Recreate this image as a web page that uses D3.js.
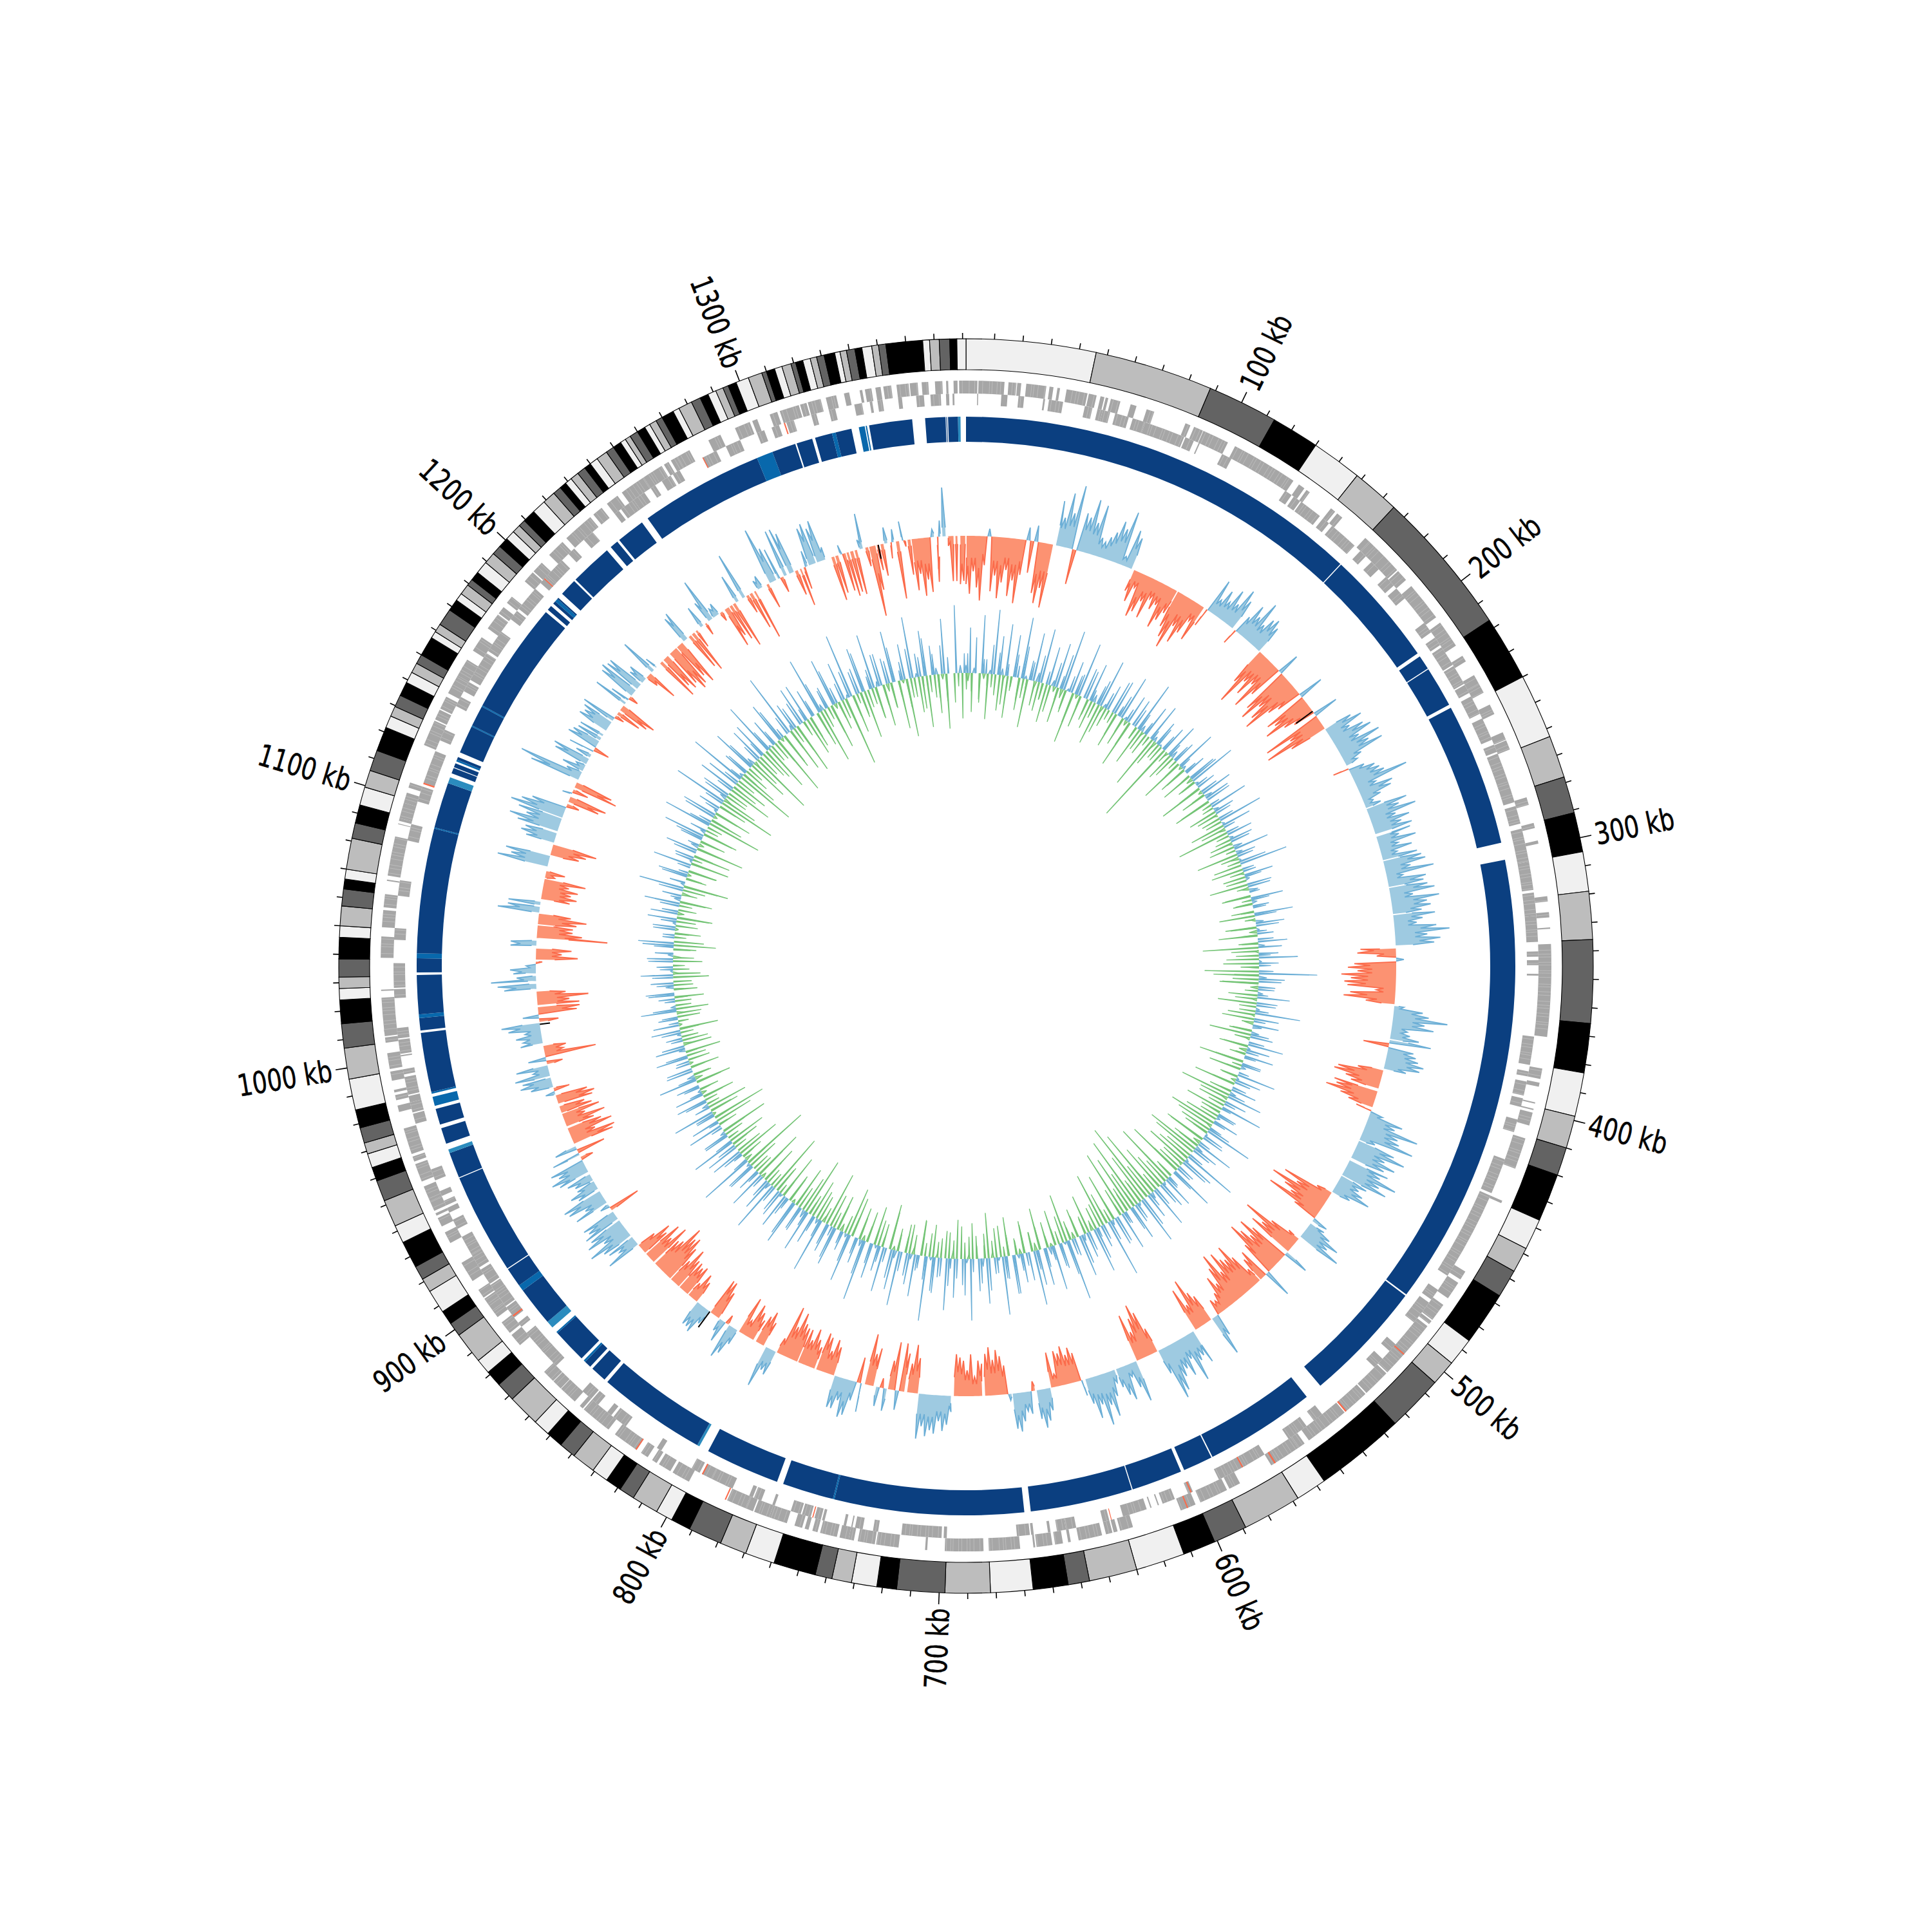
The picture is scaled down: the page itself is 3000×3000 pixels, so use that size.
<!DOCTYPE html>
<html><head><meta charset="utf-8">
<script src="https://cdn.jsdelivr.net/npm/d3@7"></script>
<style>html,body{margin:0;background:#fff}svg{display:block}</style></head>
<body><svg id="c" width="3000" height="3000"></svg>
<script>
const genomeKb = 1381.2;
const bandEdges = [0,46,88,113,130,148,165,217,240,263,278,291,305,319,336,365.5,383,398.5,410,420,437,448,457,467,486,496,505,525,557,568,589,601,612.6,630,647,654.6,667,682,698,715,722,731,738,744,759,769.5,779,791,798,804,813.5,819,824.7,830.6,839,845,851,857,868.4,875.3,881,886.4,897.6,902.6,907.6,916,921,926,935.6,942,951.6,959,964,969,973,978.5,985,996,1007,1015.6,1024,1028,1032,1038.4,1046,1050,1057,1063,1066.5,1070,1081,1086.5,1093,1099.5,1105.6,1113,1121.7,1126,1129.7,1134,1139,1143,1146.6,1150,1157,1159.5,1162.5,1168.6,1172.8,1175.6,1179.4,1181.8,1185,1189.5,1193.6,1197,1200.6,1204,1207,1209.5,1214,1219,1223.6,1226.6,1229,1231.5,1234.5,1237.6,1240,1243,1247,1250,1253,1255,1257,1260,1263,1265,1267.6,1270,1274.4,1276.7,1281.6,1285,1288,1291,1293.7,1295.7,1298.7,1303.3,1308.3,1310,1313,1315.7,1319,1320.7,1323.3,1326,1328.3,1331,1334.8,1336.7,1339,1342,1344.5,1348,1350.4,1353,1366,1368.4,1371.8,1375.5,1378,1381.2];
const bandColors = ["#f0f0f0","#bdbdbd","#636363","#000000"];
const majorTicks = [100,200,300,400,500,600,700,800,900,1000,1100,1200,1300];
const tickLabels = majorTicks.map(d=>d+" kb");

const ringSegments = [[0,164.8,0],[165.2,212.2,0],[213.7,219.5,0],[219.9,236.3,0],[237.7,295.5,0],[302.5,486.2,0],[486.8,536.5,0],[543.5,588.3,0],[588.8,600.8,0],[602.2,622.8,0],[623.2,664.6,0],[667.2,743.8,0],[743.8,744.4,1],[744.4,765.2,0],[767.8,798,0],[802,803,2],[803,847,0],[848.5,855,0],[856.2,859,0],[859,859.8,1],[861,875,0],[875,875.6,1],[878,881,2],[881,897,0],[897,899.5,1],[899.5,907.4,0],[907.8,948.7,0],[949.1,959.5,0],[959.5,961,2],[963.5,970,0],[971.5,978,0],[979.3,983,1],[984.3,985,1],[985,1009,0],[1010,1015,0],[1015,1016.5,1],[1016.5,1032.3,0],[1033.3,1039,0],[1039,1041,1],[1041,1091.5,0],[1091.5,1092,1],[1092,1110.5,0],[1110.5,1113,2],[1114.7,1117,0],[1117.3,1119,0],[1119.8,1120.6,1],[1120.6,1121.7,0],[1123.7,1135,0],[1135,1135.5,1],[1135.5,1144,0],[1144,1144.5,1],[1144.5,1189.8,0],[1191,1193,0],[1194.3,1195.5,0],[1195.5,1196.8,1],[1196.8,1197.4,0],[1199.6,1206.6,0],[1207.4,1224.6,0],[1226.6,1230,0],[1231,1242.5,0],[1245.3,1295.4,0],[1295.4,1302,1],[1302,1311.7,0],[1312.3,1318.8,0],[1320,1327,0],[1327,1328.5,1],[1328.5,1335,0],[1338,1340.4,1],[1340.8,1341.3,1],[1342.2,1359.6,0],[1364.8,1373,0],[1373.3,1373.6,0],[1374,1378,0],[1378,1379,2]];
const ringColors = ["#0b3f80","#0868ac","#2b8cbe"];

const geneOuter = [[0,4.3],[4.7,14.5],[16,19],[19.3,20.8],[22.7,30.3],[31.5,33],[34.5,35.5],[38,46],[46.5,49.5],[51,52.5],[53,54],[55,58.7],[62.7,65],[69,72],[84.5,86.5],[88,91.6],[91.8,102],[105,130.5],[133,135.5],[136.5,138],[148,150],[151,153.5],[165,167.5],[167.5,176],[175.7,182],[182.5,187],[190,205],[207.5,212],[212,218],[222.5,225],[231,235],[235,238.5],[243.5,247.5],[255,258],[258.3,262],[281,284],[291,293],[297.8,299],[319,321],[325,327],[330.8,331.3],[337,345],[345,372],[384,388],[389.4,391],[397,397.5],[399.5,400],[401,406],[411,423],[436,437],[466,469.5],[471,478],[481,488],[488.5,490],[491,494],[494,514],[514.5,525],[525.5,535.5],[536,553],[555,558],[558,570],[583.5,588],[589,600],[602,608],[627,632],[633,634.5],[635,637.5],[639,648],[651,652],[654,657],[658,664],[664.5,665.2],[670.2,682],[684,698.6],[705.2,706],[716,724.5],[725,731.5],[733,735],[735,738.5],[739.5,746],[747,749],[750.5,752],[753,756],[759,766],[766,772],[772.5,775.5],[775.5,783],[799,805],[804.5,806],[807,812],[813,815],[817,820],[822,825],[825,832],[835,838.5],[838.5,847],[847.5,849],[851.5,858.5],[858.7,862.5],[862.7,867.5],[881,886],[887,892],[894.5,897.5],[896.5,903],[903.5,907],[911,916],[915.5,919],[927.5,932],[934.5,938],[939,940],[941,945],[945,951],[953,960],[961,963],[964,974],[980.5,983],[985,987],[988,989],[992.5,996],[997,1003],[1007,1009],[1009.5,1012],[1011,1024],[1026.5,1027],[1039,1047],[1050.5,1057],[1058,1063],[1068,1068.5],[1070,1085],[1089.7,1090],[1091,1092],[1092,1098],[1098,1102],[1104,1106],[1121,1131],[1131.5,1135.5],[1136,1141],[1142.5,1150],[1150,1154],[1153,1157],[1161,1167],[1171,1177.5],[1178,1181],[1183,1186],[1193.5,1198],[1198.5,1203],[1207,1214],[1216,1222.5],[1222.5,1228],[1229.5,1233.5],[1236,1241],[1243,1248],[1248,1253],[1253,1257],[1257,1261],[1262,1264],[1265,1268],[1268,1273],[1281,1286],[1292,1298],[1299,1301],[1306,1309],[1310,1317.5],[1318,1320.5],[1321,1326],[1328,1332],[1335,1337],[1341,1342],[1343,1345.5],[1347,1349],[1350,1353],[1355,1359.6],[1360,1363],[1364.5,1367],[1369.5,1372.3],[1373.7,1374.5],[1376.5,1378],[1378.6,1381.2]];
const geneInner = [[4.3,4.7],[13.6,16],[20.2,22.4],[29.8,30.5],[32,37.5],[46,49],[51,53],[53,56],[58,63.4],[65,70],[70,86],[86.5,90],[92,92.5],[102,106],[130,133],[134,137],[137.5,146.5],[148,151],[152.5,164],[167,170],[173,177],[181,185.5],[187,192],[204,208.5],[211,214.5],[215.5,223.5],[224,232],[232.5,236],[237.5,245],[247,256],[258,261],[261.7,281.5],[283,290],[292,305],[305,316],[317,326],[326,336],[339.7,341.7],[343,345],[348.3,349],[372.5,383.5],[386,388],[390,395.5],[396.6,400],[405,410],[421,435],[436,468],[467,471],[477.5,482],[483.5,488],[487.5,493],[504,507.5],[511.5,516],[543,547],[550.5,555],[555,559],[570,579],[578,586],[586,590],[601,603],[608.5,613.5],[615,615.5],[618,618.5],[620,621.5],[621,629.5],[635,637.5],[648,652],[652,655.5],[658,659],[664.5,665.5],[666,671],[698,699.2],[700,715.5],[724.5,726.5],[730.5,733.5],[734.5,735],[737,738],[745.5,746.5],[747,749.5],[751,754.5],[755,759],[765.5,766.5],[771,774],[774.5,776],[783,786],[784.5,792],[792,796],[797,800.5],[814,816],[830.5,836.5],[837.5,839.5],[844,847],[847.5,852],[866,868],[867.5,874],[873,878],[878,883],[886,888],[890.5,895.5],[896,903],[902,906],[906.5,913],[914,917],[917,920],[920,927.5],[931,935],[938,940],[941,943],[945,947],[951.5,956],[974.5,978.5],[979,983],[983,985.5],[986,993],[994,996],[1001,1001.5],[1002,1007.5],[1008,1012],[1023.5,1027],[1027.5,1037],[1046,1050.5],[1063,1069],[1084.5,1091],[1100,1106],[1107.5,1120.5],[1125,1129.5],[1139.5,1143.5],[1146,1150],[1151,1163],[1164,1173],[1179,1183],[1184,1194],[1197,1201],[1200,1205],[1205,1209],[1212.5,1215.5],[1220.5,1225],[1236,1238],[1239,1245],[1245,1250],[1253,1255],[1258,1262],[1263,1266],[1276,1282],[1286,1292],[1299,1302],[1305,1308],[1311,1314],[1321,1323],[1328,1330.5],[1338,1341],[1344,1345],[1347,1349],[1355,1356.5],[1362,1365],[1367.5,1371.5],[1373.5,1374.7],[1376,1376.7]];
const rnaOuter = [[504.5,505],[535,535.6],[568,568.6],[605,605.5],[783.5,784],[822,822.5]];
const rnaInner = [[579.5,580],[601.5,602],[634,634.3],[750,750.4],[795.5,796],[891,891.6],[1107,1107.6],[1199,1199.4],[1276,1276.4],[1310,1310.5]];
const geneLengths = [1.2,2.1,0.9,1.6,2.6,1.0,1.9,1.3,2.3,1.5,1.1,2.0];

const skewRows = [
[0,-75,-90,-55,-80,-100,-45,12,-85,-60,-95,-70,-50,-90,-65,-100,-55,20,-50,25,-80,-95,-70,-100],
[46,70,45,85,55,100,-55,60,55,85,50,80,30,25,35,45,65,55,85,15,60,50],
[88,-35,-50,-25,-70,-60,-40,-65,-30,-45,-35,-70,-55,-40],
[114,-60,-75,-90,-50,-75,-55,-30,-60],
[130,-30,55,25,45,30,55,35,65,50],
[148,-25,30,55,40,70,35,50,55],
[164,45,-60,-95,-50,-70,-45,-85,-55,35,-75,-90,-60,-80,-95,-55,-40,40,-70,-60,-80,-50,-35,40,-95,-55,-100,-60],
[218,45,60,35,55,65,40,72,50,70,30,20],
[240,-25,25,40,45,50,85,30,55,50,30,15,25],
[264,65,50,75,40,60,45,60],
[278,55,35,60,30,50,25,55],
[292,60,65,40,75,25,60,55],
[306,60,70,35,75,55,60,45],
[320,65,45,35,65,85,50,70,60],
[336,-55,-60,-30,12,-65,-75,-60,-85,-70,-80,-75,-30,-70,-80,-45],
[366,15,45,55,85,50,65,25,30,45],
[384,65,-40,40,45,50,60,55,35],
[400,-40,-70,-75,-55,-45],
[410,-70,-65,-80,-55,-40],
[420,-25,20,55,45,85,55,60,85,25],
[438,60,80,50,70,55],
[448,65,55,85,60,75],
[458,45,35,45,60,30],
[468,-25,-80,-55,-95,-70,-55,-90,-40,25],
[486,25,40,60,45,70],
[496,-20,-50,-95,-60,-75],
[506,40,-65,-85,-60,-75,-90,-55,45,-50,-40],
[526,-25,-55,-80,-60,-65,-80,-50,-85,-65,-40,-55,-30,-20,-25,35,65],
[558,-45,-55,-80,-40,-70],
[568,55,40,45,75,35,60,45,55,75,85,40],
[590,-40,-70,-85,-65,-45,-75],
[602,65,40,20,55,45,30],
[614,20,40,70,50,80,45,65,40],
[630,25,-45,-55,-45,-60,-50,-55,-20,-55],
[648,35,50,60,45],
[656,-15,35,30,45,60,55],
[668,10,-45,-60,-70,-55,-75,-65],
[682,-50,-55,-30,-65,-40,-55,-60,-65],
[698,25,45,55,40,60,55,65,50,70],
[716,-55,-75,-45],
[722,-60,-75,30,-75,-45],
[732,35,-15,30],
[738,-60,-50,-80],
[744,45,-40,30,55,60,35,50,50],
[760,-45,-55,-35,-55,-60],
[770,-35,-45,-60,-40,-55],
[780,-55,-60,-75,-50,-80,-25],
[792,40,35,65],
[798,-40,-55,-45],
[804,-35,-45,-55,-25,-60],
[814,25,45,55],
[820,-15,35,20],
[826,-45,-60,-60],
[832,25,45,40,40],
[840,-35,-45,-25],
[846,-50,-45,-50],
[852,-50,-65,-40],
[858,-60,-75,-70,-85,-55],
[868,-50,-70,-45,-65],
[876,-45,-55,-30],
[882,55,30,45],
[888,50,70,40,65,55],
[898,60,50,55],
[904,-50,15],
[908,55,35,60,65],
[916,35,45,30],
[922,30,40],
[926,50,60,45,55,-20],
[936,45,-45,35],
[942,-65,-70,-40,-70,-55],
[952,-45,-65,-35,-60],
[960,-50,-40],
[964,-55,-60,-50],
[970,15,-25],
[974,35,50,45],
[980,55,25,50],
[986,-25,28,-80,-30,-35],
[996,35,30,40,25,50,60],
[1008,-30,25,-60,-65],
[1016,-65,-50,-80,-45],
[1024,50,60],
[1028,70,30],
[1032,35,40,15,-10],
[1040,-65,-40,-55],
[1046,40,40],
[1050,-110,-70,-55,-55],
[1058,-60,-75,-50],
[1064,65,50],
[1068,50],
[1070,-45,-55,-45,-55,-40,-65],
[1082,-15,-30],
[1088,80,60,70],
[1094,-45,-55,-70],
[1100,45,55,50],
[1106,65,80,55,70],
[1114,85,70,55,-20],
[1122,-50,-60],
[1126,15,-25],
[1130,-70,-60],
[1134,80,100,25],
[1140,35,15],
[1144,55,60],
[1148,25],
[1150,40,-25,50,45],
[1158,40],
[1160,40],
[1164,50,45,50],
[1170,55,-15],
[1174,-40],
[1176,-50,-60],
[1180,55],
[1182,30,-15],
[1186,60,65],
[1190,60,60],
[1194,25,30],
[1198,-20,-50],
[1202,60],
[1204,20],
[1208,-70],
[1210,-55,-65],
[1214,-60,-75,-70],
[1220,-60,-75],
[1224,45,50],
[1228,-60],
[1230,-70],
[1232,-30],
[1236,35],
[1238,-20],
[1240,35,70],
[1244,15,20],
[1248,-15],
[1250,-65,-50],
[1254,-60],
[1256,-75],
[1258,45],
[1262,75],
[1264,-30],
[1266,-60],
[1268,-80],
[1270,15,20],
[1276,-40],
[1278,90,55],
[1282,50,-25],
[1286,75],
[1288,75,65],
[1292,-40],
[1294,-60],
[1296,-35,25],
[1300,60,65],
[1304,55,65],
[1308,20],
[1312,-70],
[1314,-60],
[1316,15,-60],
[1320,-70],
[1322,-65],
[1324,-70],
[1326,15,55],
[1330,-30],
[1332,-110,-70],
[1336,-40],
[1338,-50],
[1340,25],
[1342,-25,20],
[1346,-90],
[1348,30,-10],
[1352,-55],
[1354,-80,-55,-90,-65,-85,12,-70],
[1366,-50,25],
[1370,76],
[1372,-15,-70],
[1376,-70],
[1378,-75,-70]
];
const skewBlack = [[206,-32],[830.8,30],[1006,-16],[1336,-22]];

const gcUp = [12,70,8,0,90,22,6,100,34,10,80,0,65,18,95,5,30,75,14,85,
0,60,9,70,20,95,4,50,30,85,0,45,60,12,30,75,6,40,0,55,
16,70,5,45,0,30,80,10,20,0,60,8,40,3,25,0,55,12,28,0,
65,6,20,0,45,75,5,30,0,50,12,40,0,60,8,25,0,70,4,18,
0,40,6,30,0,55,10,25,3,75,0,20,45,6,0,35,14,0,50,8,
25,0,60,0,12,35,4,25,0,45,10,0,30,60,4,18,0,90,12,35,
0,25,8,50,0,30,6,70,0,18,40,0,12,35,0,55,5,20,45,0,
30,8,0,60,4,25,0,40,10,55,0,18,65,0,30,6,40,0,20,75,
3,35,0,60,12,30,0,85,5,45,0,25,70,0,18,50,5,35,0,65,
10,40,0,75,5,30,55,0,20,60,0,45,8,90,0,35,15,70,0,40,
10,65,0,25,95,4,40,0,70,12,30,0,55,85,0,20,45,6,60,0,
35,90,5,25,0,70,12,50,0,95,6,40,0,60,15,80,0,30,55,5,
100,0,20,65,8,35,0,85,12,45,0,70,25,5,55,0,95,10,40,0,
75,6,30,0,60,15,45,0,85,8,25,0,65,12,40,0,70,0,18,55,
5,35,0,80,10,30,0,60,20,0,45,6,85,0,15,50,0,30,70,0,
40,8,0,55,16,0,30,65,0,10,35,0,45,5,25,0,60,12,0,40,
0,20,50,0,10,35,0,25,6,45,0,15,30,0,55,8,0,25,40,0,
12,35,0,50,4,25,0,40,8,0,30,55,0,18,0,35,5,45,0,25,
0,55,10,30,0,70,6,0,40,15,0,60,4,30,0,50,12,0,35,65,
8,0,75,20,0,55,5,35,0,85,10,45,0,60,0,25,90,6,40,0,
70,12,0,55,25,0,85,4,45,0,65,15,0,100,8,35,0,60,20,0,
45,0,90,10,30,0,75,25,0,60,5,100,0,40,70,0,20,85,8,50,
0,35,80,0,15,55,0,95,6,30,70,0,45,10,0,85,25,0,105,12,30];
const gcDown = [-12,-60,0,-45,-8,-70,-20,0,-55,-5,-65,-16,0,-50,-30,-75,0,-10,-45,-25,
-60,0,-8,-55,-14,-35,0,-80,-6,-50,0,-25,-45,0,-65,-10,-30,0,-18,-55,
0,-45,-8,-75,0,-20,-60,-5,-35,0,-85,-12,-25,0,-132,-6,-45,0,-15,-70,
-5,-35,0,-50,-10,-25,0,-70,-6,-40,0,-60,-15,0,-45,-5,-30,0,-55,-10,
-82,0,-25,-6,-40,0,-65,-12,-20,0,-50,-5,-35,0,-60,-10,0,-45,-15,-30,
0,-20,-55,-6,0,-40,-12,-60,0,-25,-86,-5,-35,0,-55,-15,-84,-70,-40,-60,
-12,0,-45,-8,-60,0,-25,-5,-50,-14,0,-35,-65,-6,0,-45,-12,-25,0,-70,
-15,-50,0,-25,-8,-65,0,-35,-80,-10,-45,0,-60,-18,-30,0,-75,-8,-50,-25,
0,-60,-12,-35,-85,0,-45,-20,-70,-6,-40,-90,0,-25,-100,-15,-55,-75,-30,-110,
-55,-130,-80,-40,-115,-60,-90,-30,-105,-45,0,-75,-20,-50,-85,0,-35,-12,-60,-25,
0,-45,-10,-30,-75,0,-20,-55,-5,-40,0,-65,-12,-30,0,-50,-8,-25,0,-60,
-15,0,-45,-8,-70,-20,0,-35,-55,-6,-25,0,-60,-12,-40,0,-30,-5,-50,0,
-20,-55,0,-10,-45,-25,0,-35,-6,-70,0,-15,-40,-60,0,-25,-8,-50,0,-30,
-75,0,-12,-55,-25,0,-85,-10,-40,0,-60,-20,-90,0,-35,-65,-6,-45,0,-70,
-15,-40,-95,0,-25,-60,-8,-80,-30,0,-50,-109,-12,-35,-70,0,-20,-45,-60,0,
-30,-75,0,-15,-60,-85,-5,-35,-63,0,-20,-50,-8,-30,0,-55,-12,-25,0,-45,
-6,0,-30,-55,0,-12,-40,0,-20,-60,-5,0,-35,-10,-50,0,-25,-45,0,-15,
-30,0,-55,-8,-25,0,-45,-12,0,-35,-65,0,-18,-40,-5,0,-30,-55,-10,0,
-20,-50,0,-12,-35,-70,0,-25,-6,-45,0,-60,-15,-30,0,-75,-8,-40,0,-55,
-20,0,-85,-30,-6,-60,0,-45,-90,-12,-35,0,-70,-15,-55,0,-95,-25,-40,0,
-65,-10,-100,0,-45,-20,-75,0,-30,-95,-6,-50,0,-70,-25,-80,0,-15,-60,-35,
0,-55,-85,0,-20,-70,-8,-45,-30,-108,0,-60,-15,-35,-75,0,-25,-50,0,-65,
-12,-40,0,-75,-5,-90,-30,0,-55,-15,-80,0,-35,-60,-8,-85,0,-45,-20,-70,-25];
// shorter needles between the long ones, one every 6 kb
const gcUpShort = [30,55,22,45,60,18,35,50,28,42,20,38,55,25,33,48,18,40,26,52,
35,20,44,28,50,16,30,42,22,36,18,34,48,20,28,40,15,32,24,46,
20,36,14,30,42,18,26,38,16,28,20,34,44,15,24,36,18,30,22,40,
26,16,32,20,38,14,28,24,36,18,30,16,40,22,26,34,15,28,20,36,
32,18,40,24,52,28,36,20,44,30,22,48,26,38,18,42,32,24,50,30,
46,28,54,36,22,58,30,44,26,60,34,24,50,38,20,56,30,42,28,52,
36,24,48,30,62,22,40,32,54,26,44,20,50,34,28,46,24,38,56,30,
42,26,50,20,36,46,24,32,52,28,40,18,44,30,24,48,20,36,28,42,
22,34,46,18,30,40,24,36,16,44,26,32,20,38,28,48,18,34,24,42,
30,16,38,24,46,20,28,36,18,44,26,34,50,22,30,40,26,52,20,36,
46,28,58,34,24,52,30,44,38,60,26,48,34,56,28,42,36,62,30,50,
40,54,28,46,36,58,32,44];
const gcDownShort = [-28,-40,-18,-32,-45,-22,-35,-15,-38,-26,-42,-20,-30,-48,-18,-34,-25,-44,-16,-36,
-24,-40,-20,-32,-16,-42,-26,-18,-36,-28,-45,-15,-30,-38,-22,-50,-18,-34,-26,-40,
-20,-36,-15,-28,-44,-22,-32,-18,-40,-26,-35,-16,-48,-24,-30,-42,-50,-28,-38,-56,
-20,-34,-26,-42,-18,-30,-24,-38,-16,-44,-22,-28,-36,-18,-46,-26,-32,-52,-60,-40,
-66,-44,-72,-56,-38,-48,-30,-42,-24,-36,-20,-34,-26,-40,-18,-30,-24,-38,-16,-28,
-34,-20,-42,-26,-18,-36,-30,-44,-22,-32,-48,-26,-38,-20,-34,-50,-28,-42,-24,-36,
-54,-30,-44,-26,-58,-36,-24,-48,-34,-62,-28,-40,-52,-24,-46,-32,-56,-30,-40,-26,
-44,-22,-36,-50,-28,-34,-20,-42,-26,-18,-38,-30,-24,-46,-20,-32,-16,-40,-28,-22,
-34,-18,-44,-26,-30,-16,-38,-24,-20,-36,-28,-42,-18,-32,-26,-46,-22,-34,-50,-28,
-40,-24,-54,-32,-44,-26,-58,-36,-30,-48,-24,-52,-38,-28,-56,-34,-42,-30,-60,-26,
-46,-36,-52,-28,-40,-58,-32,-44,-24,-50,-36,-30,-46,-26,-54,-34,-40,-28,-48,-32,
-38,-24,-44,-30,-50,-26,-36,-42];

const cx = 1500, cy = 1500;
const svg = d3.select("#c");
const g = svg.append("g").attr("transform",`translate(${cx},${cy})`);
const theta = d3.scaleLinear().domain([0,genomeKb]).range([0,2*Math.PI]);
const rSkew = d3.scaleLinear().domain([-100,100]).range([568,768]);
const rGc = d3.scaleLinear().domain([-100,100]).range([355,555]);
const pal = {up:{fill:"#9ecae1",line:"#6baed6"},down:{fill:"#fc9272",line:"#fb6a4a"},low:{fill:"#a1d99b",line:"#74c476"}};

const arc = d3.arc();
function sector(a,b,r0,r1){return arc({innerRadius:r0,outerRadius:r1,startAngle:theta(a),endAngle:theta(b)});}

const bands = d3.pairs(bandEdges).map((p,i)=>({a:p[0],b:p[1],c:bandColors[i%4]}));
g.append("g").selectAll("path").data(bands).join("path")
 .attr("d",d=>sector(d.a,d.b,926,974)).attr("fill",d=>d.c)
 .attr("stroke","#000").attr("stroke-width",1.1);

const minor = d3.range(10,genomeKb,10).filter(k=>k%100!==0);
const tickLine = (k,len)=>{const t=theta(k)-Math.PI/2;return [974*Math.cos(t),974*Math.sin(t),(974+len)*Math.cos(t),(974+len)*Math.sin(t)];};
g.append("g").selectAll("line").data(minor.map(k=>tickLine(k,9)).concat(majorTicks.map(k=>tickLine(k,18)))).join("line")
 .attr("x1",d=>d[0]).attr("y1",d=>d[1]).attr("x2",d=>d[2]).attr("y2",d=>d[3])
 .attr("stroke","#000").attr("stroke-width",1.6);
g.append("g").selectAll("text").data(majorTicks).join("text")
 .attr("transform",(k)=>{const deg=theta(k)*180/Math.PI;const rot=deg<180?deg-90:deg+90;return `rotate(${deg-90}) translate(998,0) rotate(${rot-(deg-90)}) scale(0.86,1)`;})
 .attr("text-anchor",k=>theta(k)<Math.PI?"start":"end").attr("dominant-baseline","central")
 .style("font-family","'DejaVu Sans'").style("font-stretch","condensed").style("font-size","47px").attr("fill","#000")
 .attr("stroke","#000").attr("stroke-width",0.5)
 .text((k,i)=>tickLabels[i]);

function genes(list,r0,r1,fill){g.append("g").selectAll("path").data(list).join("path").attr("d",d=>sector(d[0],d[1],r0,r1)).attr("fill",fill);}
function geneLines(list,r0,r1){
  const gL=g.append("g").attr("stroke","#c4c4c4").attr("stroke-width",0.7);
  let c=0;
  list.forEach(b=>{
    let k=b[0]+geneLengths[c++%geneLengths.length];
    while(k<b[1]-0.3){
      const t=theta(k)-Math.PI/2;
      gL.append("line").attr("x1",r0*Math.cos(t)).attr("y1",r0*Math.sin(t)).attr("x2",r1*Math.cos(t)).attr("y2",r1*Math.sin(t));
      k+=geneLengths[c++%geneLengths.length];
    }
  });
}
genes(geneOuter,889,909,"#a6a6a6");
genes(geneInner,871,889,"#a6a6a6");
geneLines(geneOuter,889,909);
geneLines(geneInner,871,889);
genes(rnaOuter,889,909,"#fb6a4a");
genes(rnaInner,871,889,"#fb6a4a");

g.append("g").selectAll("path").data(ringSegments).join("path")
 .attr("d",d=>sector(d[0],d[1],814,853)).attr("fill",d=>ringColors[d[2]]);

const samples = skewRows.flatMap(r=>r.slice(1).map((v,i)=>({k:r[0]+2*i,v})));
const areaS = d3.areaRadial().angle(d=>theta(d[0])).innerRadius(rSkew(0)).outerRadius(d=>rSkew(d[1]));
const lineS = d3.lineRadial().angle(d=>theta(d[0])).radius(d=>rSkew(d[1]));
const gS = g.append("g");
bands.forEach(b=>{
  const inB = samples.filter(s=>s.k>=b.a && s.k<b.b);
  const narrow = b.b-b.a<6;
  let i=0;
  while(i<inB.length){
    let j=i; const sgn=Math.sign(inB[i].v);
    while(j+1<inB.length && Math.sign(inB[j+1].v)===sgn) j++;
    const run=inB.slice(i,j+1);
    const first=i===0, last=j===inB.length-1;
    const lo=Math.max(b.a+0.3,run[0].k-0.8), hi=Math.min(b.b-0.3,run[run.length-1].k+0.8);
    const edge=narrow?0.18:0.45;
    const pts=[[lo,first?run[0].v*edge:0]];
    run.forEach((s,n)=>{
      pts.push([s.k,s.v]);
      if(n<run.length-1){ // V-shaped notch between two neighbouring teeth
        const low=Math.min(Math.abs(s.v),Math.abs(run[n+1].v));
        pts.push([s.k+1,sgn*low*0.62]);
      }
    });
    pts.push([hi,last?run[run.length-1].v*edge:0]);
    const col=sgn>0?pal.up:pal.down;
    gS.append("path").attr("d",areaS(pts)).attr("fill",col.fill).attr("stroke","none");
    gS.append("path").attr("d",lineS(pts)).attr("fill","none").attr("stroke",col.line).attr("stroke-width",1.8);
    i=j+1;
  }
});
gS.selectAll("line.blk").data(skewBlack).join("line").attr("class","blk")
 .each(function(d){const t=theta(d[0])-Math.PI/2;d3.select(this)
   .attr("x1",rSkew(0)*Math.cos(t)).attr("y1",rSkew(0)*Math.sin(t))
   .attr("x2",rSkew(d[1])*Math.cos(t)).attr("y2",rSkew(d[1])*Math.sin(t));})
 .attr("stroke","#000").attr("stroke-width",2);

const lineG = d3.lineRadial().angle(d=>theta(d[0])).radius(d=>rGc(d[1]));
function needles(vals,off,step,col){
  const gN=g.append("g");
  vals.forEach((v,i)=>{
    if(!v) return;
    const k=i*step+off;
    const w=Math.abs(v)<=14?1.1:0.4;
    const d=lineG([[k-w,0],[k,v],[k+w,0]]);
    gN.append("path").attr("d",d).attr("fill",col.fill).attr("stroke",col.line).attr("stroke-width",1.4).attr("stroke-linejoin","round");
  });
}
needles(gcUpShort,1.2,6,pal.up);
needles(gcUp,0,3,pal.up);
needles(gcDownShort,4.2,6,pal.low);
needles(gcDown,1.5,3,pal.low);
</script></body></html>
